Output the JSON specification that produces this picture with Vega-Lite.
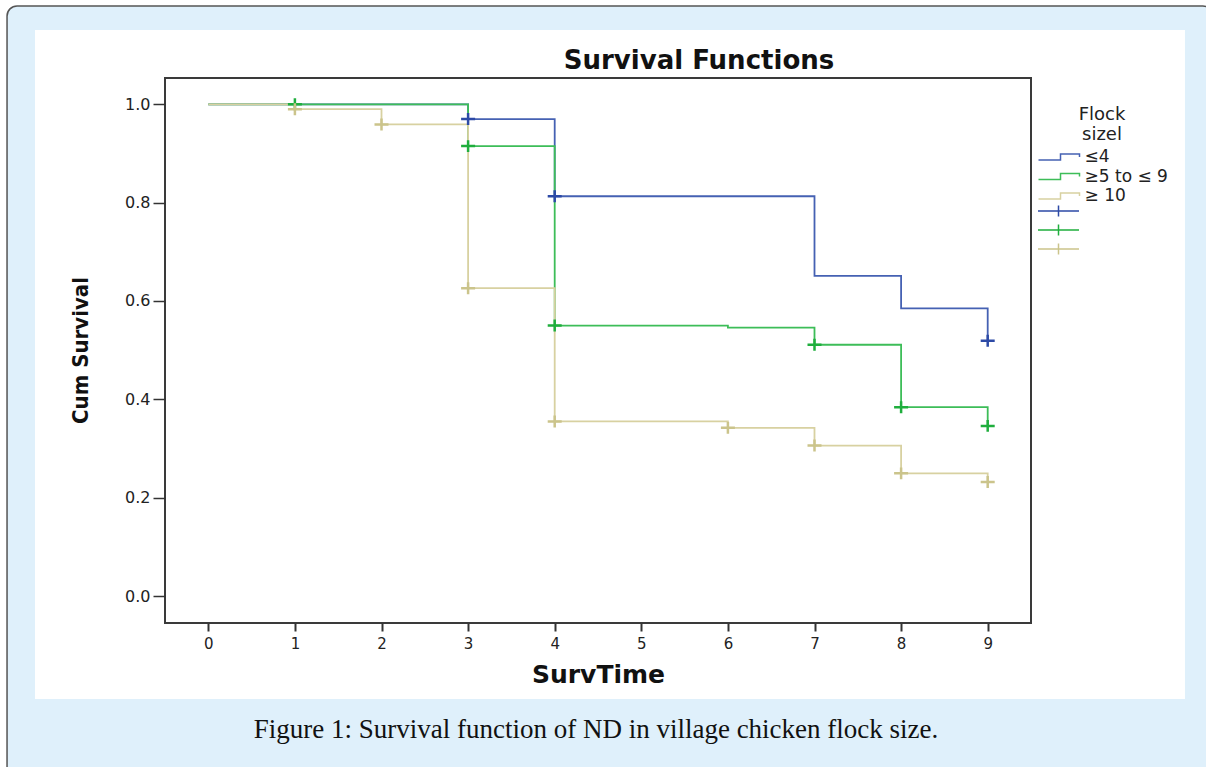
{
  "$schema": "https://vega.github.io/schema/vega-lite/v6.json",
  "width": 866,
  "height": 545,
  "autosize": {"type": "none"},
  "padding": {"left": 165, "top": 78, "right": 175, "bottom": 144},
  "background": "white",
  "title": {
    "text": "Survival Functions",
    "frame": "group",
    "anchor": "middle",
    "dx": 101,
    "offset": -90,
    "baseline": "alphabetic",
    "font": "DejaVu Sans",
    "fontSize": 26,
    "fontWeight": "bold",
    "color": "#111111"
  },
  "config": {
    "view": {"stroke": null},
    "axis": {"zindex": 1, "grid": false}
  },
  "datasets": {
    "steps": [
      {"group": "≤4", "time": 0, "surv": 1.0},
      {"group": "≤4", "time": 3, "surv": 0.97},
      {"group": "≤4", "time": 4, "surv": 0.813},
      {"group": "≤4", "time": 7, "surv": 0.651},
      {"group": "≤4", "time": 8, "surv": 0.585},
      {"group": "≤4", "time": 9, "surv": 0.519},
      {"group": "≥5 to ≤ 9", "time": 0, "surv": 1.0},
      {"group": "≥5 to ≤ 9", "time": 3, "surv": 0.915},
      {"group": "≥5 to ≤ 9", "time": 4, "surv": 0.55},
      {"group": "≥5 to ≤ 9", "time": 6, "surv": 0.546},
      {"group": "≥5 to ≤ 9", "time": 7, "surv": 0.511},
      {"group": "≥5 to ≤ 9", "time": 8, "surv": 0.384},
      {"group": "≥5 to ≤ 9", "time": 9, "surv": 0.346},
      {"group": "≥ 10", "time": 0, "surv": 1.0},
      {"group": "≥ 10", "time": 1, "surv": 0.99},
      {"group": "≥ 10", "time": 2, "surv": 0.959},
      {"group": "≥ 10", "time": 3, "surv": 0.626},
      {"group": "≥ 10", "time": 4, "surv": 0.355},
      {"group": "≥ 10", "time": 6, "surv": 0.342},
      {"group": "≥ 10", "time": 7, "surv": 0.306},
      {"group": "≥ 10", "time": 8, "surv": 0.2495},
      {"group": "≥ 10", "time": 9, "surv": 0.232}
    ],
    "censor": [
      {"censored": "≤4 censored", "time": 3, "surv": 0.97},
      {"censored": "≤4 censored", "time": 4, "surv": 0.813},
      {"censored": "≤4 censored", "time": 9, "surv": 0.519},
      {"censored": "≥5 to ≤ 9 censored", "time": 1, "surv": 1.0},
      {"censored": "≥5 to ≤ 9 censored", "time": 3, "surv": 0.915},
      {"censored": "≥5 to ≤ 9 censored", "time": 4, "surv": 0.55},
      {"censored": "≥5 to ≤ 9 censored", "time": 7, "surv": 0.511},
      {"censored": "≥5 to ≤ 9 censored", "time": 8, "surv": 0.384},
      {"censored": "≥5 to ≤ 9 censored", "time": 9, "surv": 0.346},
      {"censored": "≥ 10 censored", "time": 1, "surv": 0.99},
      {"censored": "≥ 10 censored", "time": 2, "surv": 0.959},
      {"censored": "≥ 10 censored", "time": 3, "surv": 0.626},
      {"censored": "≥ 10 censored", "time": 4, "surv": 0.355},
      {"censored": "≥ 10 censored", "time": 6, "surv": 0.342},
      {"censored": "≥ 10 censored", "time": 7, "surv": 0.306},
      {"censored": "≥ 10 censored", "time": 8, "surv": 0.2495},
      {"censored": "≥ 10 censored", "time": 9, "surv": 0.232}
    ]
  },
  "layer": [
    {
      "data": {"values": [{}]},
      "mark": {"type": "rect", "clip": false, "fill": "#dff0fb", "stroke": "#555555", "strokeWidth": 1.5, "cornerRadius": 10},
      "encoding": {
        "x": {"datum": -2.324, "type": "quantitative", "scale": {"domain": [-0.5, 9.5], "nice": false, "zero": false}},
        "x2": {"datum": 11.6},
        "y": {"datum": 1.2, "type": "quantitative", "scale": {"domain": [-0.0549, 1.0535], "nice": false, "zero": false}},
        "y2": {"datum": -0.374}
      }
    },
    {
      "data": {"values": [{}]},
      "mark": {"type": "rect", "clip": false, "fill": "#ffffff", "strokeWidth": 0},
      "encoding": {
        "x": {"datum": -2.001, "type": "quantitative", "scale": {"domain": [-0.5, 9.5], "nice": false, "zero": false}},
        "x2": {"datum": 11.278},
        "y": {"datum": 1.1511, "type": "quantitative", "scale": {"domain": [-0.0549, 1.0535], "nice": false, "zero": false}},
        "y2": {"datum": -0.2095}
      }
    },
    {
      "data": {"name": "steps"},
      "mark": {"type": "line", "interpolate": "step-after", "strokeWidth": 1.8, "clip": false},
      "encoding": {
        "x": {
          "field": "time", "type": "quantitative",
          "scale": {"domain": [-0.5, 9.5], "nice": false, "zero": false},
          "axis": {
            "zindex": 1,
            "values": [0, 1, 2, 3, 4, 5, 6, 7, 8, 9],
            "format": "d",
            "domain": false,
            "tickSize": 8,
            "tickWidth": 2,
            "tickColor": "#333333",
            "labelFont": "DejaVu Sans",
            "labelFontSize": 15,
            "labelColor": "#222222",
            "labelPadding": 5,
            "labelFlush": false,
            "labelOverlap": false,
            "title": "SurvTime",
            "titleFont": "DejaVu Sans",
            "titleFontSize": 25,
            "titleFontWeight": "bold",
            "titleColor": "#111111",
            "titleY": 59,
            "titleBaseline": "alphabetic"
          }
        },
        "y": {
          "field": "surv", "type": "quantitative",
          "scale": {"domain": [-0.0549, 1.0535], "nice": false, "zero": false},
          "axis": {
            "zindex": 1,
            "values": [0, 0.2, 0.4, 0.6, 0.8, 1.0],
            "format": ".1f",
            "domain": false,
            "tickSize": 12,
            "tickWidth": 1.5,
            "tickColor": "#333333",
            "labelFont": "DejaVu Sans",
            "labelFontSize": 16,
            "labelColor": "#222222",
            "labelPadding": 3,
            "labelFlush": false,
            "labelOverlap": false,
            "title": "Cum Survival",
            "titleFont": "Liberation Sans Narrow, DejaVu Sans Condensed, sans-serif",
            "titleFontSize": 22,
            "titleFontWeight": "bold",
            "titleColor": "#111111",
            "titleAngle": 270,
            "titleX": -78,
            "titleY": 272,
            "titleAlign": "center",
            "titleBaseline": "alphabetic"
          }
        },
        "color": {
          "field": "group", "type": "nominal",
          "scale": {"domain": ["≤4", "≥5 to ≤ 9", "≥ 10"], "range": ["#4561b3", "#3dbd58", "#d8d1a1"]},
          "legend": {
            "orient": "none",
            "legendX": 871,
            "legendY": 28,
            "padding": 0,
            "title": ["Flock", "sizel"],
            "titleFont": "DejaVu Sans",
            "titleFontSize": 18,
            "titleFontWeight": "normal",
            "titleColor": "#222222",
            "titleAnchor": "middle",
            "titleAlign": "center",
            "titleLineHeight": 19.5,
            "titlePadding": 5,
            "symbolType": "M-4.1,0.6H0.3V-0.6H4.1V0",
            "symbolSize": 100,
            "symbolStrokeWidth": 1.5,
            "symbolFillColor": "transparent",
            "symbolOffset": 14.5,
            "labelOffset": 17,
            "labelFont": "DejaVu Sans",
            "labelFontSize": 17,
            "labelColor": "#222222",
            "rowPadding": 1.5
          }
        }
      }
    },
    {
      "data": {"name": "censor"},
      "mark": {"type": "point", "shape": "M-1,0H1M0,-0.85V0.85", "size": 196, "strokeWidth": 2.5, "filled": false, "opacity": 1, "clip": false},
      "encoding": {
        "x": {"field": "time", "type": "quantitative", "scale": {"domain": [-0.5, 9.5], "nice": false, "zero": false}},
        "y": {"field": "surv", "type": "quantitative", "scale": {"domain": [-0.0549, 1.0535], "nice": false, "zero": false}},
        "stroke": {
          "field": "censored", "type": "nominal",
          "scale": {"domain": ["≤4 censored", "≥5 to ≤ 9 censored", "≥ 10 censored"], "range": ["#2d4aa6", "#1fae3d", "#cbc48b"]},
          "legend": {
            "orient": "none",
            "legendX": 871,
            "legendY": 125,
            "padding": 0,
            "title": null,
            "labelExpr": "''",
            "symbolType": "M-4.1,0H4.1M0,-1.1V1.1",
            "symbolSize": 100,
            "symbolStrokeWidth": 1.5,
            "symbolFillColor": "transparent",
            "symbolOffset": 14.5,
            "labelOffset": 17,
            "labelFont": "DejaVu Sans",
            "labelFontSize": 16,
            "rowPadding": 1
          }
        }
      }
    },
    {
      "data": {"values": [{}]},
      "mark": {"type": "rect", "clip": false, "fill": "transparent", "stroke": "#3a3a3a", "strokeWidth": 2},
      "encoding": {
        "x": {"datum": -0.5, "type": "quantitative", "scale": {"domain": [-0.5, 9.5], "nice": false, "zero": false}},
        "x2": {"datum": 9.5},
        "y": {"datum": 1.0535, "type": "quantitative", "scale": {"domain": [-0.0549, 1.0535], "nice": false, "zero": false}},
        "y2": {"datum": -0.0549}
      }
    },
    {
      "data": {"values": [{}]},
      "mark": {"type": "text", "clip": false, "text": "Figure 1: Survival function of ND in village chicken flock size.", "font": "Liberation Serif", "fontSize": 27, "color": "#111111", "align": "center", "baseline": "alphabetic"},
      "encoding": {
        "x": {"datum": 4.477, "type": "quantitative", "scale": {"domain": [-0.5, 9.5], "nice": false, "zero": false}},
        "y": {"datum": -0.2888, "type": "quantitative", "scale": {"domain": [-0.0549, 1.0535], "nice": false, "zero": false}}
      }
    }
  ]
}
